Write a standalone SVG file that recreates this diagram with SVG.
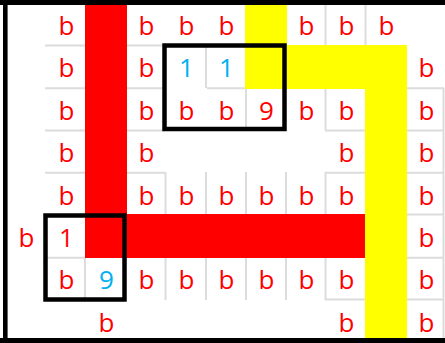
<svg xmlns="http://www.w3.org/2000/svg" width="445" height="343" viewBox="0 0 445 343">
<style>
.t{font-family:"Open Sans","Liberation Sans",sans-serif;font-size:26px;text-anchor:middle}
.r{fill:#FF0000}
.bl{fill:#00B0F0}
.g{stroke:#DCDCDC;stroke-width:2;fill:none}
.box{fill:none;stroke:#000;stroke-width:4.5}
</style>
<rect x="0" y="0" width="445" height="343" fill="#fff"/>
<g id="gridlines" class="g">
<path d="M45 45.5H85M127 45.5H165"/>
<path d="M45 88.3H85M127 88.3H165M207 88.3H245M407 88.3H444"/>
<path d="M45 130.5H85M127 130.5H165M325 130.5H365M407 130.5H444"/>
<path d="M45 172.8H85M127 172.8H165M325 172.8H365M407 172.8H444"/>
<path d="M407 214.5H444"/>
<path d="M45 257.7H85M407 257.7H444"/>
<path d="M325 299.5H365M407 299.5H444"/>
<path d="M325.5 5V45M365.5 5V45"/>
<path d="M325.5 88V130M325.5 172V214M325.5 257V300"/>
<path d="M206 45V88M206 172V214M206 257V300"/>
<path d="M246 88V130M246 172V214M246 257V300"/>
<path d="M286 172V214M286 257V300"/>
<path d="M165.5 172V214M165.5 257V300"/>
<path d="M85 257V300"/>
<path d="M443.5 88V338"/>
</g>
<g id="red-path" fill="#FF0000">
<rect x="85" y="5" width="42" height="253"/>
<rect x="85" y="214" width="280" height="44"/>
</g>
<g id="yellow-path" fill="#FFFF00">
<rect x="245" y="5" width="42" height="41"/>
<rect x="245" y="45" width="162" height="44"/>
<rect x="365" y="88" width="42" height="250"/>
</g>
<g id="cells" class="t">
<g id="row0" class="r">
<text x="66.5" y="35">b</text><text x="146.5" y="35">b</text><text x="186.5" y="35">b</text><text x="226.5" y="35">b</text><text x="306.5" y="35">b</text><text x="346.5" y="35">b</text><text x="386.5" y="35">b</text>
</g>
<g id="row1">
<text class="r" x="66.5" y="77.4">b</text><text class="r" x="146.5" y="77.4">b</text><text class="bl" x="186.5" y="77.4">1</text><text class="bl" x="226.5" y="77.4">1</text><text class="r" x="426.5" y="77.4">b</text>
</g>
<g id="row2" class="r">
<text x="66.5" y="119.8">b</text><text x="146.5" y="119.8">b</text><text x="186.5" y="119.8">b</text><text x="226.5" y="119.8">b</text><text x="266.5" y="119.8">9</text><text x="306.5" y="119.8">b</text><text x="346.5" y="119.8">b</text><text x="426.5" y="119.8">b</text>
</g>
<g id="row3" class="r">
<text x="66.5" y="162.2">b</text><text x="146.5" y="162.2">b</text><text x="346.5" y="162.2">b</text><text x="426.5" y="162.2">b</text>
</g>
<g id="row4" class="r">
<text x="66.5" y="204.6">b</text><text x="146.5" y="204.6">b</text><text x="186.5" y="204.6">b</text><text x="226.5" y="204.6">b</text><text x="266.5" y="204.6">b</text><text x="306.5" y="204.6">b</text><text x="346.5" y="204.6">b</text><text x="426.5" y="204.6">b</text>
</g>
<g id="row5" class="r">
<text x="26.5" y="247">b</text><text x="66.5" y="247">1</text><text x="426.5" y="247">b</text>
</g>
<g id="row6">
<text class="r" x="66.5" y="289.4">b</text><text class="bl" x="106.5" y="289.4">9</text><text class="r" x="146.5" y="289.4">b</text><text class="r" x="186.5" y="289.4">b</text><text class="r" x="226.5" y="289.4">b</text><text class="r" x="266.5" y="289.4">b</text><text class="r" x="306.5" y="289.4">b</text><text class="r" x="346.5" y="289.4">b</text><text class="r" x="426.5" y="289.4">b</text>
</g>
<g id="row7" class="r">
<text x="106.5" y="331.8">b</text><text x="346.5" y="331.8">b</text><text x="426.5" y="331.8">b</text>
</g>
</g>
<g id="box-top" ><rect class="box" x="164.5" y="45.5" width="120" height="83.5"/></g>
<g id="box-bottom"><rect class="box" x="45.5" y="215.5" width="79" height="84"/></g>
<g id="frame" stroke="#000" fill="none">
<path d="M0 2.5H445" stroke-width="5"/>
<path d="M5.3 0V343" stroke-width="4.6"/>
<path d="M0 340.5H445" stroke-width="5"/>
</g>
</svg>
